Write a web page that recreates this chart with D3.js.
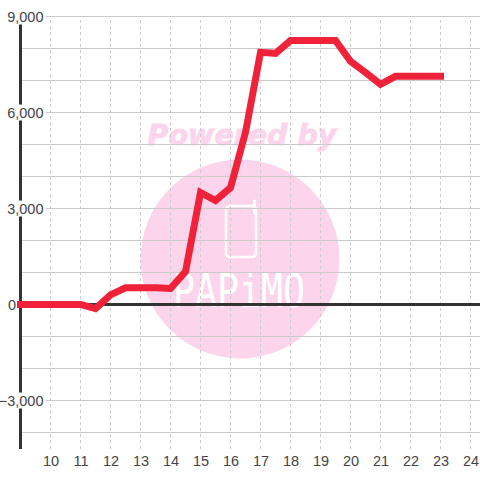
<!DOCTYPE html>
<html>
<head>
<meta charset="utf-8">
<script src="https://cdnjs.cloudflare.com/ajax/libs/d3/7.8.5/d3.min.js"></script>
<style>
html,body{margin:0;padding:0;background:#fff;overflow:hidden}
svg{display:block}
text{font-family:"Liberation Sans",Arial,sans-serif;font-size:14.5px;fill:#444}
</style>
</head>
<body>
<svg id="c" width="480" height="480"></svg>
<script>
const hours = [9,9.5,10,10.5,11,11.5,12,12.5,13,13.5,14,14.5,15,15.5,16,16.5,17,17.5,18,18.5,19,19.5,20,20.5,21,21.5,22,22.5,23];
const values = [0,0,0,0,0,-130,300,520,520,520,500,1030,3500,3250,3650,5380,7880,7850,8250,8250,8250,8250,7600,7250,6880,7130,7130,7130,7130];
const xTicks = [10,11,12,13,14,15,16,17,18,19,20,21,22,23,24];
const yGridTicks = [9000,8000,7000,6000,5000,4000,3000,2000,1000,0,-1000,-2000,-3000,-4000];
const yLabelTicks = [9000,6000,3000,0,-3000];
const watermarkTop = "Powered by";
const watermarkBrand = "PAPiMO";

const svg = d3.select("#c");
const x = d3.scaleLinear().domain([9,25]).range([20.5,500.5]);
const y = d3.scaleLinear().domain([9000,-4000]).range([16.5,432.5]);
const bottom = 449;

// watermark
const wm = svg.append("g");
wm.append("circle").attr("cx",240).attr("cy",259).attr("r",99.5).attr("fill","#fcd5ec");
wm.append("text").attr("x",242).attr("y",145).attr("text-anchor","middle")
  .style("font-family","'DejaVu Sans'").style("font-weight","bold").style("font-style","italic")
  .style("font-size","28.5px").style("fill","#fcd5ec").style("stroke","#fcd5ec").style("stroke-width","0.9px").text(watermarkTop);
wm.append("rect").attr("x",226).attr("y",206).attr("width",30).attr("height",51).attr("rx",4)
  .attr("fill","none").attr("stroke","#fff").attr("stroke-width",2.5);
wm.append("line").attr("x1",254.5).attr("x2",254.5).attr("y1",201).attr("y2",212)
  .attr("stroke","#fff").attr("stroke-width",3).attr("stroke-linecap","round");
wm.append("text").attr("x",239).attr("y",307).attr("text-anchor","middle")
  .style("font-family","'DejaVu Sans Mono'").style("font-size","46px").style("fill","#fff")
  .attr("textLength",132).attr("lengthAdjust","spacingAndGlyphs").text(watermarkBrand);

// grid via axes
const yGrid = d3.axisLeft(y).offset(0).tickValues(yGridTicks).tickSize(-480).tickFormat("");
svg.append("g").attr("transform","translate(20,0)").call(yGrid)
  .call(g=>g.select(".domain").remove())
  .call(g=>g.selectAll("line").attr("stroke","#cacaca").attr("stroke-width",1));

const xAxis = d3.axisBottom(x).offset(0).tickValues(xTicks).tickSize(y.range()[0]-bottom).tickFormat("");
svg.append("g").attr("transform",`translate(0,${bottom})`).call(xAxis)
  .call(g=>g.select(".domain").remove())
  .call(g=>g.selectAll("line").attr("stroke","#cccccc").attr("stroke-dasharray","3,3"));

// main axes
svg.append("line").attr("x1",x(9)).attr("x2",x(9)).attr("y1",y(9000)).attr("y2",bottom)
  .attr("stroke","#333").attr("stroke-width",3);
svg.append("line").attr("x1",x(9)).attr("x2",480).attr("y1",y(0)).attr("y2",y(0))
  .attr("stroke","#333").attr("stroke-width",3);

// y labels with white backing
const fmt = d3.format(",");
const yl = svg.append("g").selectAll("g").data(yLabelTicks).join("g");
yl.each(function(d){
  const g = d3.select(this);
  const right = d===0 ? 16 : 43.5;
  const t = g.append("text").attr("x",right).attr("y",y(d)+5).attr("text-anchor","end").text(fmt(d));
  const b = t.node().getBBox();
  g.insert("rect","text").attr("x",b.x).attr("y",y(d)-8).attr("width",(d===0?b.width:b.width+2)).attr("height",16).attr("fill","#fff");
});

// x labels
svg.append("g").selectAll("text").data(xTicks).join("text")
  .attr("x",d=>x(d)+0.5).attr("y",466).attr("text-anchor","middle").text(d=>d);

// series
const line = d3.line().x((d,i)=>x(hours[i])).y(d=>y(d));
svg.append("path").datum(values).attr("d",line).attr("fill","none")
  .attr("stroke","#f0223a").attr("stroke-width",7)
  .attr("stroke-linecap","square").attr("stroke-linejoin","miter");
</script>
</body>
</html>
